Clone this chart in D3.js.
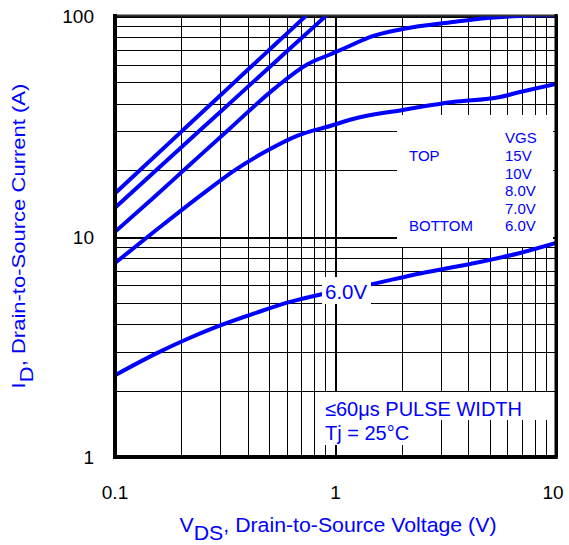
<!DOCTYPE html>
<html><head><meta charset="utf-8">
<script src="https://cdn.jsdelivr.net/npm/d3@7"></script>
<style>
body{margin:0;background:#fff}
svg{display:block}
text{font-family:"Liberation Sans",Arial,Helvetica,sans-serif}
</style>
</head><body>
<svg id="c" width="569" height="545"></svg>
<script>
// ---- data ----
const xTicks = [0.1, 1, 10];
const xTickLabels = ["0.1", "1", "10"];
const yTicks = [1, 10, 100];
const yTickLabels = ["1", "10", "100"];
const seriesNames = ["15V", "10V", "8.0V", "7.0V", "6.0V"];

const vds15 = [0.1, 0.2, 0.3, 0.4, 0.5, 0.6, 0.733];
const id15  = [15.7, 29.9, 43.6, 57.0, 70.1, 83.0, 100];

const vds10 = [0.1, 0.2, 0.3, 0.4, 0.5, 0.6, 0.7, 0.8, 0.903];
const id10  = [13.5, 25.4, 36.7, 47.7, 58.4, 69.0, 79.3, 89.5, 100];

const vds8 = [0.1, 0.149, 0.219, 0.332, 0.532, 0.750, 0.944, 1.104, 1.43, 2.02, 3.41, 4.87, 7.87, 10];
const id8  = [10.5, 14.95, 21.2, 30.9, 47.1, 60.6, 66.9, 71.6, 80.3, 87.3, 93.9, 97.9, 100.5, 101];

const vds7 = [0.1, 0.160, 0.256, 0.350, 0.479, 0.669, 0.944, 1.2, 2.02, 3.41, 5.57, 6.87, 10];
const id7  = [7.58, 11.04, 15.9, 20.0, 24.2, 28.6, 31.7, 34.1, 37.5, 40.7, 42.9, 45.2, 49.2];

const vds6 = [0.1, 0.155, 0.21, 0.29, 0.44, 0.622, 0.877, 1.40, 2.42, 4.07, 6.87, 10];
const id6  = [2.35, 2.96, 3.41, 3.90, 4.52, 5.05, 5.49, 6.03, 6.80, 7.50, 8.42, 9.35];

const legendTitle = "VGS";
const legendTop = "TOP";
const legendBottom = "BOTTOM";
const curveLabel = "6.0V";
const noteLines = ["\u226460\u03bcs PULSE WIDTH", "Tj = 25\u00b0C"];

// ---- drawing ----
const BLUE = "#0000ff";
const svg = d3.select("#c");
const L = 115, R = 556, T = 16, B = 457;
const x = d3.scaleLog().domain([0.1, 10]).range([L, R]);
const y = d3.scaleLog().domain([1, 100]).range([B, T]);
const isDecade = v => Math.abs(Math.log10(v) - Math.round(Math.log10(v))) < 1e-9;

// grid
const grid = svg.append("g").attr("shape-rendering", "crispEdges");
grid.selectAll("line.v").data(x.ticks()).join("line")
  .attr("x1", d => Math.round(x(d)) + 0.5).attr("x2", d => Math.round(x(d)) + 0.5)
  .attr("y1", T).attr("y2", B)
  .attr("stroke", "#000").attr("stroke-width", d => isDecade(d) ? 2 : 1);
grid.selectAll("line.h").data(y.ticks()).join("line")
  .attr("y1", d => Math.round(y(d)) + 0.5).attr("y2", d => Math.round(y(d)) + 0.5)
  .attr("x1", L).attr("x2", R)
  .attr("stroke", "#000").attr("stroke-width", d => isDecade(d) ? 2 : 1);

// white backgrounds
const wb = svg.append("g").attr("fill", "#fff");
wb.append("rect").attr("x", 397).attr("y", 115).attr("width", 156).attr("height", 132);
wb.append("rect").attr("x", 320).attr("y", 392).attr("width", 231).attr("height", 28);
wb.append("rect").attr("x", 320).attr("y", 420).attr("width", 100).attr("height", 25);

// curves
svg.append("clipPath").attr("id", "clip").append("rect")
  .attr("x", L).attr("y", T).attr("width", R - L).attr("height", B - T);
const series = [[vds15, id15], [vds10, id10], [vds8, id8], [vds7, id7], [vds6, id6]];
const line = d3.line().x(d => x(d[0])).y(d => y(d[1])).curve(d3.curveMonotoneX);
svg.append("g").attr("clip-path", "url(#clip)")
  .selectAll("path").data(series).join("path")
  .attr("d", s => line(d3.zip(s[0], s[1])))
  .attr("fill", "none").attr("stroke", BLUE).attr("stroke-width", 4)
  .attr("stroke-linecap", "round").attr("stroke-linejoin", "round");

// curve label
svg.append("rect").attr("x", 322).attr("y", 277).attr("width", 49).attr("height", 27).attr("fill", "#fff");
svg.append("text").attr("x", 325).attr("y", 299).attr("font-size", 20.5).attr("fill", BLUE).text(curveLabel);

// legend
const lg = svg.append("g").attr("font-size", 15).attr("fill", BLUE);
lg.append("text").attr("x", 505).attr("y", 143).text(legendTitle);
lg.append("text").attr("x", 409).attr("y", 161).text(legendTop);
lg.append("text").attr("x", 409).attr("y", 231).text(legendBottom);
lg.selectAll("text.s").data(seriesNames).join("text").attr("class", "s")
  .attr("x", 505).attr("y", (d, i) => 161 + i * 17.5).text(d => d);

// note
svg.append("g").attr("font-size", 20).attr("fill", BLUE)
  .selectAll("text").data(noteLines).join("text")
  .attr("x", 325).attr("y", (d, i) => 416 + i * 23.5).text(d => d);

// border
const bd = svg.append("g").attr("stroke", "#000");
bd.append("line").attr("x1", L - 2).attr("x2", R + 2).attr("y1", 15.5).attr("y2", 15.5).attr("stroke-width", 2).attr("stroke", "#333");
bd.append("line").attr("x1", R).attr("x2", R).attr("y1", 14).attr("y2", B + 2).attr("stroke-width", 3);
bd.append("line").attr("x1", L).attr("x2", L).attr("y1", 14).attr("y2", B + 2).attr("stroke-width", 4);
bd.append("line").attr("x1", L - 2).attr("x2", R + 1.5).attr("y1", B).attr("y2", B).attr("stroke-width", 4);

// tick labels
svg.append("g").attr("font-size", 19).attr("fill", "#000").attr("text-anchor", "end")
  .selectAll("text").data(yTicks).join("text")
  .attr("x", 94).attr("y", d => y(d) + 7).text((d, i) => yTickLabels[i]);
svg.append("g").attr("font-size", 19).attr("fill", "#000").attr("text-anchor", "middle")
  .selectAll("text").data(xTicks).join("text")
  .attr("x", d => Math.min(x(d), 553)).attr("y", 499).text((d, i) => xTickLabels[i]);

// axis titles
function stretch(g, target) {
  const w = g.node().getBBox().width;
  return target / w;
}
const xt = svg.append("g");
const xtt = xt.append("text").attr("font-size", 19.5).attr("fill", BLUE).attr("text-anchor", "middle");
xtt.append("tspan").text("V");
xtt.append("tspan").attr("dy", 8).text("DS");
xtt.append("tspan").attr("dy", -8).text(", Drain-to-Source Voltage (V)");
const sx = stretch(xt, 317);
xt.attr("transform", `translate(338,532) scale(${sx},1)`);

const yt = svg.append("g");
const ytt = yt.append("text").attr("font-size", 19).attr("fill", BLUE).attr("text-anchor", "middle");
ytt.append("tspan").text("I");
ytt.append("tspan").attr("dy", 8).text("D");
ytt.append("tspan").attr("dy", -8).text(", Drain-to-Source Current (A)");
const sy = stretch(yt, 305);
yt.attr("transform", `translate(25,236) rotate(-90) scale(${sy},1)`);
</script>
</body></html>
